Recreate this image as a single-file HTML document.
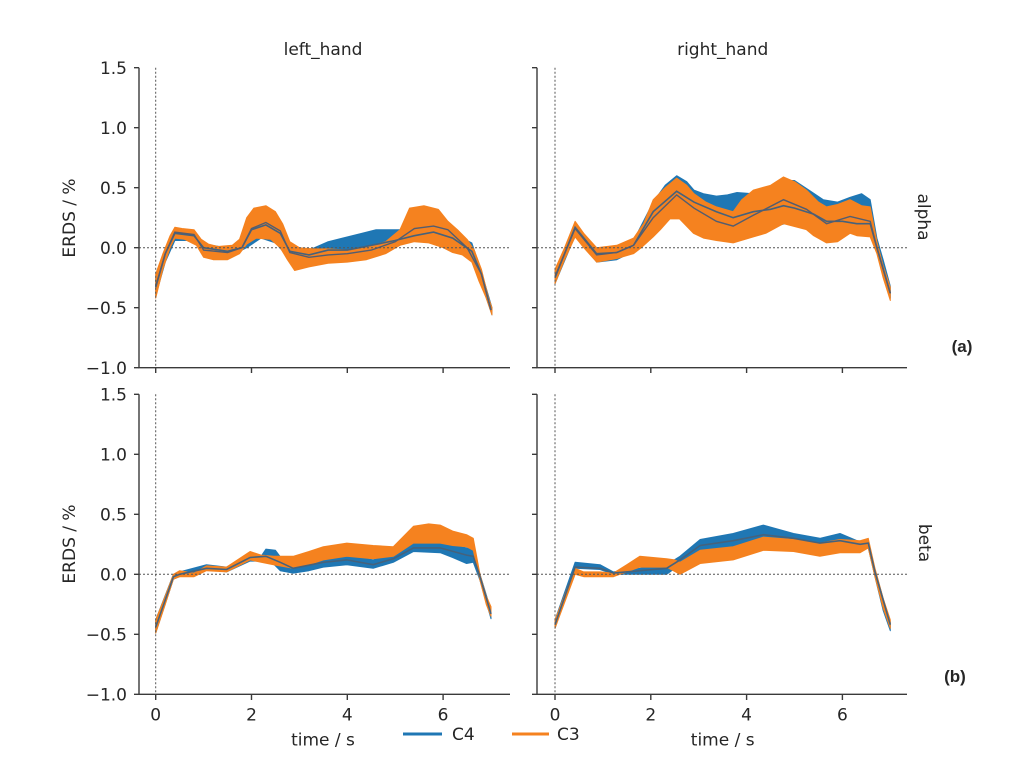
<!DOCTYPE html>
<html><head><meta charset="utf-8"><style>
html,body{margin:0;padding:0;background:#fff;}
svg{display:block;}
text{font-family:"DejaVu Sans","Liberation Sans",sans-serif;fill:#262626;}
.tk{font-size:17px;}
.sp{stroke:#3a3a3a;stroke-width:1.4;fill:none;}
.zl{stroke:#555;stroke-width:1;stroke-dasharray:2 2;fill:none;}
.b{fill:#1f77b4;stroke:#1f77b4;stroke-width:1;vector-effect:non-scaling-stroke;stroke-linejoin:round;}
.o{fill:#f5821f;stroke:#f5821f;stroke-width:1;vector-effect:non-scaling-stroke;stroke-linejoin:round;}
.m{fill:none;stroke:#45627c;stroke-width:1.6;vector-effect:non-scaling-stroke;}
.m2{fill:none;stroke:#525d70;stroke-width:1.4;vector-effect:non-scaling-stroke;}
</style></head><body>
<svg width="1022" height="778" viewBox="0 0 1022 778" xmlns="http://www.w3.org/2000/svg">
<rect width="1022" height="778" fill="#fff"/>

<!-- ===== TOP LEFT (alpha, left_hand) ===== -->
<g transform="translate(155.7,247.7) scale(47.9,-120)">
<polygon class="b" points="0,-0.25 0.3,0.08 0.45,0.14 0.8,0.12 1.0,0.03 1.5,0.0 1.8,0.04 2.0,0.17 2.3,0.2 2.6,0.15 2.8,0.0 3.2,-0.02 3.6,0.05 3.9,0.08 4.3,0.12 4.6,0.15 4.9,0.15 5.2,0.15 5.6,0.18 6.0,0.15 6.3,0.1 6.6,0.04 6.8,-0.2 7.02,-0.5 7.02,-0.56 6.8,-0.3 6.6,-0.1 6.2,0.0 5.8,0.06 5.3,0.07 4.9,-0.02 4.5,-0.08 4.0,-0.1 3.6,-0.12 3.2,-0.14 2.9,-0.12 2.7,-0.05 2.5,0.04 2.2,0.08 1.9,0.0 1.5,-0.08 1.0,-0.06 0.8,0.06 0.4,0.06 0.2,-0.12 0,-0.4"/>
<polygon class="o" points="0,-0.22 0.15,-0.05 0.3,0.10 0.4,0.17 0.55,0.16 0.8,0.15 0.95,0.07 1.1,0.03 1.3,0.01 1.6,0.02 1.75,0.07 1.9,0.25 2.05,0.33 2.3,0.35 2.5,0.30 2.65,0.20 2.8,0.05 3.0,0.0 3.3,-0.01 3.6,-0.01 4.0,-0.02 4.4,0.0 4.8,0.05 5.1,0.15 5.3,0.33 5.6,0.35 5.9,0.32 6.1,0.22 6.3,0.15 6.5,0.07 6.65,-0.02 6.8,-0.18 6.95,-0.42 7.02,-0.5 7.02,-0.56 6.9,-0.42 6.75,-0.28 6.6,-0.12 6.4,-0.06 6.2,-0.04 6.0,0.0 5.7,0.04 5.4,0.05 5.1,0.02 4.8,-0.05 4.4,-0.10 4.0,-0.12 3.6,-0.13 3.2,-0.16 2.9,-0.19 2.75,-0.1 2.6,0.0 2.4,0.07 2.1,0.08 1.9,0.03 1.75,-0.05 1.5,-0.1 1.2,-0.1 1.0,-0.08 0.85,0.02 0.6,0.07 0.4,0.08 0.3,0.0 0.15,-0.18 0,-0.42"/>
<polyline class="m" points="0,-0.33 0.2,-0.05 0.4,0.12 0.8,0.1 1.0,0.0 1.5,-0.03 1.8,0.0 2.0,0.15 2.3,0.19 2.6,0.12 2.8,-0.03 3.2,-0.06 3.6,-0.02 4.0,-0.02 4.5,0.02 5.0,0.06 5.4,0.1 5.8,0.13 6.2,0.08 6.6,-0.03 6.8,-0.22 7.0,-0.52"/>
<polyline class="m2" points="0,-0.32 0.2,-0.05 0.4,0.13 0.8,0.11 1.0,-0.02 1.5,-0.04 1.8,0.0 2.0,0.16 2.3,0.21 2.6,0.14 2.8,-0.04 3.2,-0.08 3.6,-0.06 4.0,-0.05 4.5,-0.02 5.0,0.05 5.4,0.16 5.8,0.18 6.1,0.15 6.5,0.0 6.8,-0.22 7.0,-0.52"/>
</g>
<line class="zl" x1="139" y1="247.7" x2="510" y2="247.7"/>
<line class="zl" x1="155.7" y1="67.7" x2="155.7" y2="367.7"/>
<path class="sp" d="M139,67.7 V367.7 H510"/>
<path class="sp" d="M134,67.7H139M134,127.7H139M134,187.7H139M134,247.7H139M134,307.7H139M134,367.7H139M155.7,367.7V373M251.5,367.7V373M347.3,367.7V373M443.1,367.7V373"/>
<g class="tk" text-anchor="end">
<text x="127" y="73.9">1.5</text>
<text x="127" y="133.9">1.0</text>
<text x="127" y="193.9">0.5</text>
<text x="127" y="253.9">0.0</text>
<text x="127" y="313.9">−0.5</text>
<text x="127" y="373.9">−1.0</text>
</g>
<text class="tk" x="323" y="55" text-anchor="middle">left_hand</text>
<text class="tk" x="75" y="218" text-anchor="middle" transform="rotate(-90 75 218)">ERDS / %</text>

<!-- ===== TOP RIGHT (alpha, right_hand) ===== -->
<g transform="translate(555,247.7) scale(47.9,-120)">
<polygon class="b" points="0,-0.2 0.42,0.2 0.87,-0.01 1.29,0.01 1.64,0.06 2.05,0.38 2.3,0.52 2.54,0.60 2.75,0.55 2.9,0.48 3.1,0.45 3.37,0.43 3.6,0.44 3.8,0.46 4.14,0.45 4.5,0.50 4.77,0.56 5.0,0.56 5.3,0.48 5.6,0.40 5.9,0.38 6.16,0.42 6.4,0.45 6.58,0.40 6.72,0.08 6.85,-0.1 7.0,-0.32 7.0,-0.42 6.85,-0.2 6.72,0.0 6.58,0.12 6.3,0.15 6.0,0.15 5.67,0.1 5.3,0.18 5.0,0.22 4.6,0.18 4.3,0.14 4.14,0.15 3.8,0.2 3.5,0.23 3.2,0.28 2.9,0.3 2.6,0.32 2.3,0.25 2.05,0.12 1.64,-0.03 1.29,-0.1 0.87,-0.12 0.42,0.1 0,-0.3"/>
<polygon class="o" points="0,-0.18 0.2,0.0 0.42,0.22 0.6,0.12 0.87,0.0 1.29,0.02 1.64,0.08 1.85,0.2 2.05,0.40 2.3,0.50 2.54,0.58 2.75,0.52 2.9,0.45 3.15,0.38 3.37,0.34 3.72,0.30 3.9,0.40 4.14,0.48 4.5,0.52 4.77,0.59 5.0,0.55 5.25,0.48 5.5,0.38 5.67,0.34 5.9,0.36 6.16,0.40 6.4,0.35 6.58,0.34 6.72,0.05 6.85,-0.15 7.0,-0.33 7.0,-0.44 6.85,-0.25 6.72,-0.05 6.58,0.09 6.3,0.1 6.16,0.12 5.9,0.05 5.67,0.04 5.4,0.1 5.25,0.15 4.77,0.2 4.4,0.12 4.14,0.09 3.72,0.04 3.37,0.06 3.1,0.08 2.89,0.12 2.6,0.24 2.4,0.24 2.2,0.15 2.05,0.09 1.8,0.0 1.64,-0.05 1.29,-0.09 0.87,-0.12 0.6,0.0 0.42,0.09 0.2,-0.1 0,-0.30"/>
<polyline class="m" points="0,-0.25 0.42,0.17 0.87,-0.05 1.29,-0.04 1.64,0.02 2.05,0.3 2.54,0.47 2.9,0.38 3.37,0.3 3.72,0.25 4.14,0.3 4.5,0.32 4.77,0.35 5.0,0.33 5.4,0.28 5.67,0.22 6.0,0.22 6.3,0.2 6.58,0.2 6.72,0.0 7.0,-0.38"/>
<polyline class="m2" points="0,-0.24 0.42,0.16 0.87,-0.06 1.29,-0.04 1.64,0.02 2.05,0.25 2.54,0.44 2.9,0.33 3.37,0.22 3.72,0.18 4.14,0.27 4.77,0.4 5.25,0.32 5.67,0.2 6.16,0.26 6.58,0.22 6.72,0.0 7.0,-0.38"/>
</g>
<line class="zl" x1="537" y1="247.7" x2="907" y2="247.7"/>
<line class="zl" x1="555" y1="67.7" x2="555" y2="367.7"/>
<path class="sp" d="M537,67.7 V367.7 H907"/>
<path class="sp" d="M532,67.7H537M532,127.7H537M532,187.7H537M532,247.7H537M532,307.7H537M532,367.7H537M555,367.7V373M650.8,367.7V373M746.6,367.7V373M842.4,367.7V373"/>
<text class="tk" x="722.7" y="55" text-anchor="middle">right_hand</text>
<text class="tk" x="918" y="217" text-anchor="middle" transform="rotate(90 918 217)">alpha</text>
<text x="962" y="352" text-anchor="middle" style="font-family:'Liberation Sans',sans-serif;font-weight:bold;font-size:17px;">(a)</text>

<!-- ===== BOTTOM LEFT (beta, left_hand) ===== -->
<g transform="translate(155.7,574.3) scale(47.9,-120)">
<polygon class="b" points="0,-0.38 0.37,0.0 0.5,0.02 1.06,0.08 1.48,0.06 1.97,0.17 2.2,0.15 2.3,0.21 2.5,0.2 2.65,0.12 2.87,0.09 3.2,0.12 3.5,0.15 3.99,0.16 4.54,0.12 4.96,0.17 5.38,0.26 5.94,0.26 6.49,0.22 6.63,0.2 6.77,0.0 7.0,-0.3 7.0,-0.37 6.77,-0.05 6.63,0.1 6.49,0.09 6.2,0.14 5.94,0.18 5.38,0.19 4.96,0.1 4.54,0.05 3.99,0.08 3.5,0.06 3.2,0.03 2.87,0.01 2.6,0.03 2.4,0.11 1.97,0.11 1.48,0.02 1.06,0.04 0.5,-0.02 0.37,-0.04 0,-0.49"/>
<polygon class="o" points="0,-0.38 0.2,-0.18 0.37,0.0 0.5,0.03 0.8,0.01 1.06,0.07 1.48,0.06 1.97,0.19 2.2,0.16 2.46,0.15 2.87,0.15 3.2,0.19 3.5,0.23 3.99,0.26 4.54,0.24 4.96,0.23 5.38,0.40 5.7,0.42 5.94,0.41 6.2,0.36 6.49,0.33 6.63,0.30 6.77,0.0 6.9,-0.18 7.0,-0.27 7.0,-0.35 6.9,-0.25 6.77,-0.05 6.63,0.2 6.49,0.23 6.2,0.24 5.94,0.26 5.38,0.26 4.96,0.15 4.54,0.13 3.99,0.15 3.5,0.12 3.2,0.08 2.87,0.05 2.46,0.08 2.2,0.1 1.97,0.12 1.48,0.02 1.06,0.03 0.8,-0.02 0.5,-0.02 0.37,-0.04 0.2,-0.25 0,-0.49"/>
<polyline class="m" points="0,-0.44 0.37,-0.02 0.5,0.0 1.06,0.05 1.48,0.04 1.97,0.14 2.3,0.15 2.6,0.1 2.87,0.05 3.5,0.1 3.99,0.12 4.54,0.08 4.96,0.13 5.38,0.22 5.94,0.22 6.49,0.16 6.63,0.15 6.77,-0.02 7.0,-0.33"/>
</g>
<line class="zl" x1="139" y1="574.3" x2="510" y2="574.3"/>
<line class="zl" x1="155.7" y1="394.3" x2="155.7" y2="694.3"/>
<path class="sp" d="M139,394.3 V694.3 H510"/>
<path class="sp" d="M134,394.3H139M134,454.3H139M134,514.3H139M134,574.3H139M134,634.3H139M134,694.3H139M155.7,694.3V700M251.5,694.3V700M347.3,694.3V700M443.1,694.3V700"/>
<g class="tk" text-anchor="end">
<text x="127" y="400.5">1.5</text>
<text x="127" y="460.5">1.0</text>
<text x="127" y="520.5">0.5</text>
<text x="127" y="580.5">0.0</text>
<text x="127" y="640.5">−0.5</text>
<text x="127" y="700.5">−1.0</text>
</g>
<g class="tk" text-anchor="middle">
<text x="155.7" y="720.5">0</text>
<text x="251.5" y="720.5">2</text>
<text x="347.3" y="720.5">4</text>
<text x="443.1" y="720.5">6</text>
</g>
<text class="tk" x="323" y="745.5" text-anchor="middle">time / s</text>
<text class="tk" x="75" y="544" text-anchor="middle" transform="rotate(-90 75 544)">ERDS / %</text>

<!-- ===== BOTTOM RIGHT (beta, right_hand) ===== -->
<g transform="translate(555,574.3) scale(47.9,-120)">
<polygon class="b" points="0,-0.38 0.42,0.1 0.94,0.08 1.22,0.02 1.77,0.05 2.33,0.08 2.61,0.15 3.03,0.29 3.72,0.34 4.35,0.41 4.98,0.34 5.53,0.30 5.95,0.34 6.37,0.27 6.54,0.27 6.68,0.04 6.85,-0.2 7.0,-0.4 7.0,-0.47 6.85,-0.3 6.68,-0.02 6.54,0.22 5.95,0.24 5.53,0.22 4.98,0.26 4.35,0.3 3.72,0.23 3.03,0.18 2.61,0.08 2.33,0.0 1.77,0.0 1.22,0.0 0.94,0.04 0.42,0.05 0,-0.45"/>
<polygon class="o" points="0,-0.38 0.42,0.05 0.6,0.02 0.94,0.02 1.22,0.01 1.5,0.08 1.77,0.15 2.33,0.13 2.5,0.12 2.61,0.10 3.03,0.20 3.72,0.23 4.35,0.31 4.98,0.29 5.53,0.26 5.95,0.29 6.37,0.28 6.54,0.30 6.68,0.05 6.85,-0.2 7.0,-0.38 7.0,-0.45 6.85,-0.28 6.68,-0.02 6.54,0.22 6.37,0.18 5.95,0.18 5.53,0.15 4.98,0.19 4.35,0.2 3.72,0.12 3.03,0.09 2.61,0.0 2.33,0.06 1.77,0.06 1.22,-0.02 0.94,-0.02 0.6,-0.02 0.42,0.0 0,-0.45"/>
<polyline class="m" points="0,-0.42 0.42,0.06 0.94,0.05 1.22,0.01 1.77,0.03 2.33,0.05 2.61,0.12 3.03,0.24 3.72,0.28 4.35,0.33 4.98,0.3 5.53,0.26 5.95,0.28 6.37,0.25 6.54,0.26 6.68,0.02 7.0,-0.42"/>
</g>
<line class="zl" x1="537" y1="574.3" x2="907" y2="574.3"/>
<line class="zl" x1="555" y1="394.3" x2="555" y2="694.3"/>
<path class="sp" d="M537,394.3 V694.3 H907"/>
<path class="sp" d="M532,394.3H537M532,454.3H537M532,514.3H537M532,574.3H537M532,634.3H537M532,694.3H537M555,694.3V700M650.8,694.3V700M746.6,694.3V700M842.4,694.3V700"/>
<g class="tk" text-anchor="middle">
<text x="555" y="720.5">0</text>
<text x="650.8" y="720.5">2</text>
<text x="746.6" y="720.5">4</text>
<text x="842.4" y="720.5">6</text>
</g>
<text class="tk" x="722.7" y="745.5" text-anchor="middle">time / s</text>
<text class="tk" x="919" y="543" text-anchor="middle" transform="rotate(90 919 543)">beta</text>
<text x="955" y="682" text-anchor="middle" style="font-family:'Liberation Sans',sans-serif;font-weight:bold;font-size:17px;">(b)</text>

<!-- ===== LEGEND ===== -->
<line x1="403" y1="734" x2="442" y2="734" stroke="#1f77b4" stroke-width="3"/>
<text class="tk" x="452" y="740">C4</text>
<line x1="512" y1="734" x2="549" y2="734" stroke="#f5821f" stroke-width="3"/>
<text class="tk" x="557" y="740">C3</text>
</svg>
</body></html>
